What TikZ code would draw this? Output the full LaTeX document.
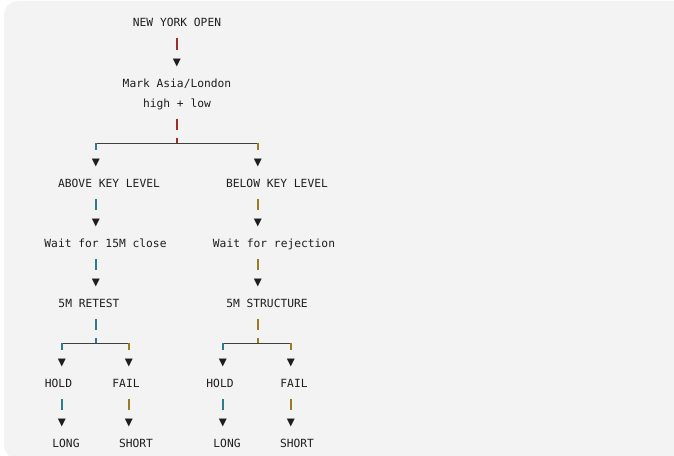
\documentclass[tikz,border=0pt]{standalone}
\usepackage{fontspec}
\setmonofont{DejaVu Sans Mono}
\usetikzlibrary{positioning}
\definecolor{boxgray}{HTML}{F3F3F3}
\definecolor{ink}{HTML}{1E1E1E}
\definecolor{barred}{HTML}{9C2F2A}
\definecolor{barteal}{HTML}{2B7C8C}
\definecolor{barolive}{HTML}{9A7B22}
\tikzset{
  lbl/.style={inner sep=0pt, text=ink, text height=6.5pt, text depth=1.8pt,
    font=\fontsize{8.45}{10}\selectfont\ttfamily},
  tip/.style={inner sep=0pt, text=ink, font=\fontsize{10}{10}\selectfont\ttfamily},
  bar/.style={line width=0.8pt, shorten <=11.25pt, shorten >=9.75pt},
  hline/.style={line width=0.65pt, draw=ink!85},
  tick/.style={line width=0.8pt}
}

\begin{document}
\begin{tikzpicture}[x=0.75pt, y=-0.75pt]
    \useasboundingbox (0,0) rectangle (674,456);
    \fill[white] (0,0) rectangle (674,456);
    \fill[boxgray, rounded corners=10.5pt] (4,1) rectangle (700,459);

    % top
    \node[lbl] (nyo) at (177,23) {NEW YORK OPEN};
    \node[tip] (t0) at (177,63) {▼};
    \node[lbl] (mark) at (177,84) {Mark Asia/London};
    \node[lbl] (hl) at (177,104) {high + low};
    \coordinate (sp) at (177,143);

    \draw[bar, barred] (nyo.center) -- (t0.center);
    \draw[bar, barred] (hl.center) -- (sp);
    \draw[tick, barred] (sp) ++(0,-5) -- (sp);

    % first split
    \node[tip] (tA) at (96,163) {▼};
    \node[tip] (tB) at (258,163) {▼};
    \draw[hline] (tA |- sp) -- (tB |- sp);
    \draw[tick, barteal] (tA |- sp) -- ++(0,7);
    \draw[tick, barolive] (tB |- sp) -- ++(0,7);

    \node[lbl] (above) at (109,184) {ABOVE KEY LEVEL};
    \node[lbl] (below) at (277,184) {BELOW KEY LEVEL};
    \node[tip] (tA2) at (96,223) {▼};
    \node[tip] (tB2) at (258,223) {▼};
    \draw[bar, barteal] (tA2 |- above) -- (tA2.center);
    \draw[bar, barolive] (tB2 |- below) -- (tB2.center);

    \node[lbl] (wait1) at (105.5,244) {Wait for 15M close};
    \node[lbl] (wait2) at (274,244) {Wait for rejection};
    \node[tip] (tA3) at (96,283) {▼};
    \node[tip] (tB3) at (258,283) {▼};
    \draw[bar, barteal] (tA3 |- wait1) -- (tA3.center);
    \draw[bar, barolive] (tB3 |- wait2) -- (tB3.center);

    \node[lbl] (retest) at (89,304) {5M RETEST};
    \node[lbl] (struct) at (267,304) {5M STRUCTURE};
    \coordinate (spA) at (96,343);
    \coordinate (spB) at (258,343);
    \draw[bar, barteal] (spA |- retest) -- (spA);
    \draw[bar, barolive] (spB |- struct) -- (spB);
    \draw[tick, barteal] (spA) ++(0,-5) -- (spA);
    \draw[tick, barolive] (spB) ++(0,-5) -- (spB);

    % second splits
    \node[tip] (tC1) at (62,363) {▼};
    \node[tip] (tC2) at (129,363) {▼};
    \node[tip] (tD1) at (223,363) {▼};
    \node[tip] (tD2) at (291,363) {▼};
    \draw[hline] (tC1 |- spA) -- (tC2 |- spA);
    \draw[hline] (tD1 |- spB) -- (tD2 |- spB);
    \draw[tick, barteal] (tC1 |- spA) -- ++(0,7);
    \draw[tick, barolive] (tC2 |- spA) -- ++(0,7);
    \draw[tick, barteal] (tD1 |- spB) -- ++(0,7);
    \draw[tick, barolive] (tD2 |- spB) -- ++(0,7);

    \node[lbl] (hold1) at (58.5,384) {HOLD};
    \node[lbl] (fail1) at (126,384) {FAIL};
    \node[lbl] (hold2) at (220,384) {HOLD};
    \node[lbl] (fail2) at (294,384) {FAIL};
    \node[tip] (tE1) at (62,423) {▼};
    \node[tip] (tE2) at (129,423) {▼};
    \node[tip] (tE3) at (223,423) {▼};
    \node[tip] (tE4) at (291,423) {▼};
    \draw[bar, barteal] (tE1 |- hold1) -- (tE1.center);
    \draw[bar, barolive] (tE2 |- fail1) -- (tE2.center);
    \draw[bar, barteal] (tE3 |- hold2) -- (tE3.center);
    \draw[bar, barolive] (tE4 |- fail2) -- (tE4.center);

    \node[lbl] (long1) at (66,444) {LONG};
    \node[lbl] (short1) at (136,444) {SHORT};
    \node[lbl] (long2) at (227,444) {LONG};
    \node[lbl] (short2) at (297,444) {SHORT};
  \end{tikzpicture}
\end{document}
